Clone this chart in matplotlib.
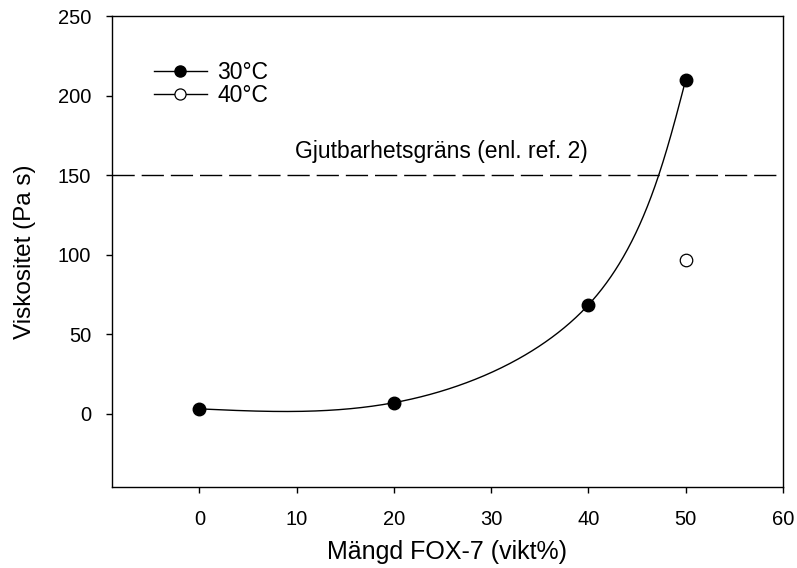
import numpy as np
import matplotlib
matplotlib.use("Agg")
from matplotlib import pyplot as plt

plt.rcParams["font.family"] = ["Liberation Sans", "DejaVu Sans"]

# values
fox_30 = [0, 20, 40, 50]
visc_30 = [3.1, 7.0, 68.5, 210.0]
fox_40 = [50]
visc_40 = [96.5]
limit = 150
x_ticks = [0, 10, 20, 30, 40, 50, 60]
y_ticks = [0, 50, 100, 150, 200, 250]


def natural_spline(t, y, ts):
    t = np.asarray(t, float)
    y = np.asarray(y, float)
    n = len(t)
    h = np.diff(t)
    A = np.zeros((n, n))
    b = np.zeros(n)
    A[0, 0] = A[-1, -1] = 1
    for i in range(1, n - 1):
        A[i, i - 1] = h[i - 1]
        A[i, i] = 2 * (h[i - 1] + h[i])
        A[i, i + 1] = h[i]
        b[i] = 6 * ((y[i + 1] - y[i]) / h[i] - (y[i] - y[i - 1]) / h[i - 1])
    M = np.linalg.solve(A, b)
    i = np.clip(np.searchsorted(t, ts) - 1, 0, n - 2)
    a = t[i + 1] - ts
    c = ts - t[i]
    return (M[i] * a**3 + M[i + 1] * c**3) / (6 * h[i]) \
        + (y[i] / h[i] - M[i] * h[i] / 6) * a \
        + (y[i + 1] / h[i] - M[i + 1] * h[i] / 6) * c


fig = plt.figure(figsize=(7.97, 5.68), dpi=100)
ax = fig.add_axes([0.1405, 0.1426, 0.8419, 0.8292])
ax.set_xlim(-9, 60)
ax.set_ylim(-46, 250)

# spline curve, parametric in display space (chord length)
pts = ax.transData.transform(np.c_[fox_30, visc_30])
d = np.r_[0, np.cumsum(np.hypot(*np.diff(pts, axis=0).T))]
ts = np.linspace(0, d[-1], 500)
curve = np.c_[natural_spline(d, pts[:, 0], ts), natural_spline(d, pts[:, 1], ts)]
curve = ax.transData.inverted().transform(curve)
ax.plot(curve[:, 0], curve[:, 1], color="black", lw=1)

ax.plot(fox_30, visc_30, "o", color="black", ms=9, zorder=3)
ax.plot(fox_40, visc_40, "o", mfc="white", mec="black", mew=0.9, ms=9, zorder=3)

ax.axhline(limit, color="black", lw=1, dashes=(16, 5))
ax.text(9.8, 160.8, "Gjutbarhetsgräns (enl. ref. 2)", ha="left", va="baseline", fontsize=16.5)

h1, = ax.plot([], [], "-o", color="black", ms=8, lw=1)
h2, = ax.plot([], [], "-o", color="black", mfc="white", mew=0.9, ms=8, lw=1)
ax.legend([h1, h2], ["30°C", "40°C"], loc="upper left", bbox_to_anchor=(0.0626, 0.9055),
          frameon=False, fontsize=16.5, handlelength=2.3, handletextpad=0.45,
          labelspacing=0.03, borderaxespad=0, borderpad=0)

ax.set_xticks(x_ticks)
ax.set_yticks(y_ticks)
ax.tick_params(direction="out", length=4.5, width=1, labelsize=14.5)
ax.tick_params(axis="x", pad=12)
ax.tick_params(axis="y", pad=10.5)
for s in ax.spines.values():
    s.set_linewidth(1)

ax.set_xlabel("Mängd FOX-7 (vikt%)", fontsize=18, labelpad=8)
ax.set_ylabel("Viskositet (Pa s)", fontsize=17.5, labelpad=16)

fig.savefig("out.png", dpi=100)
